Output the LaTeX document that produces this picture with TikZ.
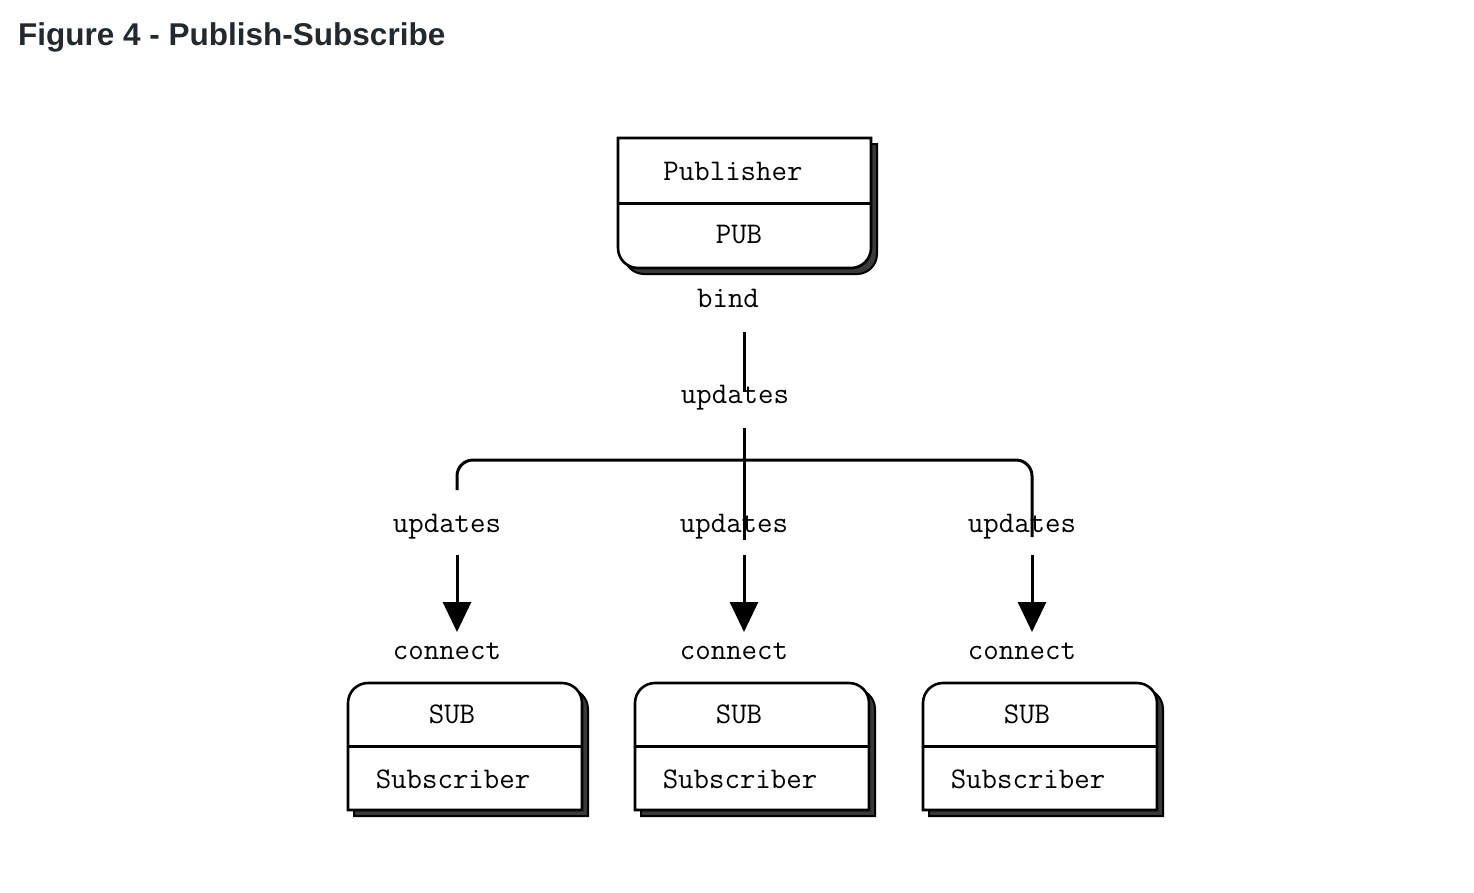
\documentclass[tikz,border=0pt]{standalone}
\usepackage{fontspec}
\usepackage{tikz}
\usetikzlibrary{arrows.meta}
\setmainfont{Liberation Sans}
\definecolor{TitleGray}{HTML}{24292E}
\definecolor{ShadowGray}{HTML}{3A3A3A}

\begin{document}
\begin{tikzpicture}[x=1pt, y=-1pt,
  lbl/.style={font=\ttfamily\fontsize{30}{34}\selectfont\addfontfeature{FakeBold=1.2}, anchor=base, inner sep=0pt},
  outline/.style={draw=black, line width=2.6pt, fill=white},
  shadow/.style={draw=black, line width=2pt, fill=ShadowGray},
  conn/.style={line width=3pt},
  arr/.style={-{Triangle[width=28pt, length=30pt]}, line width=3pt}
]
\useasboundingbox (0,0) rectangle (1474,892);
\node[anchor=base west, inner sep=0pt, text=TitleGray, font=\bfseries\fontsize{31.5}{36}\selectfont] (title) at (18,45) {Figure 4 - Publish-Subscribe};

% publisher
\draw[shadow, shift={(6,6)}] (618,203) [rounded corners=20pt] -- (618,268) -- (871,268) -- (871,203) [sharp corners] -- (871,138) -- (618,138) -- cycle;
\draw[outline] (618,203) [rounded corners=20pt] -- (618,268) -- (871,268) -- (871,203) [sharp corners] -- (871,138) -- (618,138) -- cycle;
\draw[conn] (618,203) -- (871,203);
\node[lbl] (pubname) at (733,180) {Publisher};
\node[lbl] (pubtag) at (739,243) {PUB};
\node[lbl] (bind) at (728,307) {bind};
\node[lbl] (upd0) at (735,403) {updates};

% fan-out
\coordinate (trunktop) at (744,332);
\coordinate (trunkend) at (744,392);
\coordinate (hubtop) at (744,428);
\coordinate (hub) at (744,460);
\coordinate (drop1) at (457,490);
\coordinate (drop2) at (744,540);
\coordinate (drop3) at (1032,537);
\draw[conn] (trunktop) -- (trunkend);
\draw[conn] (hubtop) -- (drop2);
\draw[conn, rounded corners=16pt] (drop1) |- (hub) -| (drop3);

% subscribers
\foreach \i/\ax in {1/457, 2/744, 3/1032} {
  \node[lbl] (upd\i) at (\ax-10,532) {updates};
  \coordinate (tail\i) at (\ax,555);
  \coordinate (tip\i) at (\ax,632);
  \draw[arr] (tail\i) -- (tip\i);
  \node[lbl] (con\i) at (\ax-10,659) {connect};
  \draw[shadow, shift={(6,6)}] ({\ax-109},746) [rounded corners=20pt] -- ({\ax-109},683) -- ({\ax+125},683) -- ({\ax+125},746) [sharp corners] -- ({\ax+125},810) -- ({\ax-109},810) -- cycle;
  \draw[outline] ({\ax-109},746) [rounded corners=20pt] -- ({\ax-109},683) -- ({\ax+125},683) -- ({\ax+125},746) [sharp corners] -- ({\ax+125},810) -- ({\ax-109},810) -- cycle;
  \draw[conn] ({\ax-109},746) -- ({\ax+125},746);
  \node[lbl] (subtag\i) at (\ax-5,723) {SUB};
  \node[lbl] (subname\i) at (\ax-4,788) {Subscriber};
}
\end{tikzpicture}
\end{document}
